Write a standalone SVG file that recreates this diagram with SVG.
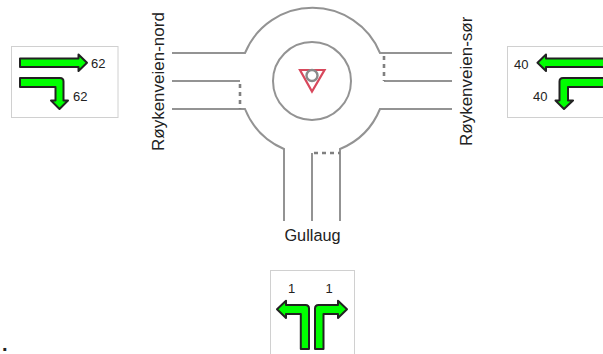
<svg xmlns="http://www.w3.org/2000/svg" width="603" height="354" viewBox="0 0 603 354">
<style>
.road{fill:none;stroke:#939393;stroke-width:2}
.dash{fill:none;stroke:#808080;stroke-width:2.600;stroke-dasharray:4 4}
.box{fill:#fff;stroke:#d0d0d0;stroke-width:1}
.arrow{fill:#00ff00;stroke:#222;stroke-width:2;stroke-linejoin:round}
text{font-family:"Liberation Sans",Arial,sans-serif;fill:#222}
.name{font-size:17px}
.n{font-size:13px}
</style>
<rect width="603" height="354" fill="#fff"/>
<g id="connectors">
<path class="road" d="M172 53H245A73 73 0 0 1 380 53H452"/>
<path class="road" d="M172 109H245A73 73 0 0 0 284 149V221"/>
<path class="road" d="M452 109H380A73 73 0 0 1 340 149V221"/>
<path class="road" d="M172 81H240"/>
<path class="road" d="M384 81H452"/>
<path class="road" d="M312 221V153"/>
<path class="dash" d="M240 84V109"/>
<path class="dash" d="M384 56V81"/>
<path class="dash" d="M314 153H340"/>
</g>
<g id="roundabout">
<circle cx="312" cy="81" r="39" fill="#fff" stroke="#939393" stroke-width="2"/>
<path d="M300 70H324.500L312 91.500Z" fill="#fff" stroke="#d8485c" stroke-width="2.200"/>
<circle cx="312" cy="75.500" r="5.500" fill="#fff" stroke="#8a8a8a" stroke-width="2.400"/>
</g>
<g id="label-nord"><text class="name" transform="translate(164 151) rotate(-90)">Røykenveien-nord</text></g>
<g id="label-sor"><text class="name" transform="translate(472 146) rotate(-90)">Røykenveien-sør</text></g>
<g id="label-gullaug"><text class="name" style="font-size:16.300px" x="312.500" y="241" text-anchor="middle">Gullaug</text></g>
<g id="panel-left">
<rect class="box" x="11.500" y="46.500" width="106.500" height="71"/>
<path class="arrow" d="M20 58.500H78.500V54.500L87 62.700L78.500 71V67H20Z"/>
<path class="arrow" d="M20 78H60Q63.500 78 63.500 81.500V100.500H68L59.500 109L51 100.500H55.500V87H20Z"/>
<text class="n" x="91" y="68">62</text>
<text class="n" x="73" y="100.500">62</text>
</g>
<g id="panel-right">
<rect class="box" x="507.500" y="46.500" width="100" height="71"/>
<path class="arrow" d="M606 58.500H546V54.500L537.500 62.700L546 71V67H606Z"/>
<path class="arrow" d="M606 78H563Q559.500 78 559.500 81.500V100.500H555.500L564 109L573 100.500H568V87H606Z"/>
<text class="n" x="514" y="68.500">40</text>
<text class="n" x="533" y="100.500">40</text>
</g>
<g id="panel-bottom">
<rect class="box" x="270.500" y="270.500" width="84" height="90"/>
<path class="arrow" d="M300.800 349V314H286V318L277 309.300L286 300.800V305H305.500Q309 305 309 308.500V349Z"/>
<path class="arrow" d="M323.500 349V314H338V318L347 309.300L338 300.800V305H318.500Q315 305 315 308.500V349Z"/>
<text class="n" x="291.500" y="292.500" text-anchor="middle">1</text>
<text class="n" x="329" y="292.500" text-anchor="middle">1</text>
</g>
<g id="dot"><text x="2" y="351" font-size="20" font-weight="bold" fill="#000">.</text></g>
</svg>
